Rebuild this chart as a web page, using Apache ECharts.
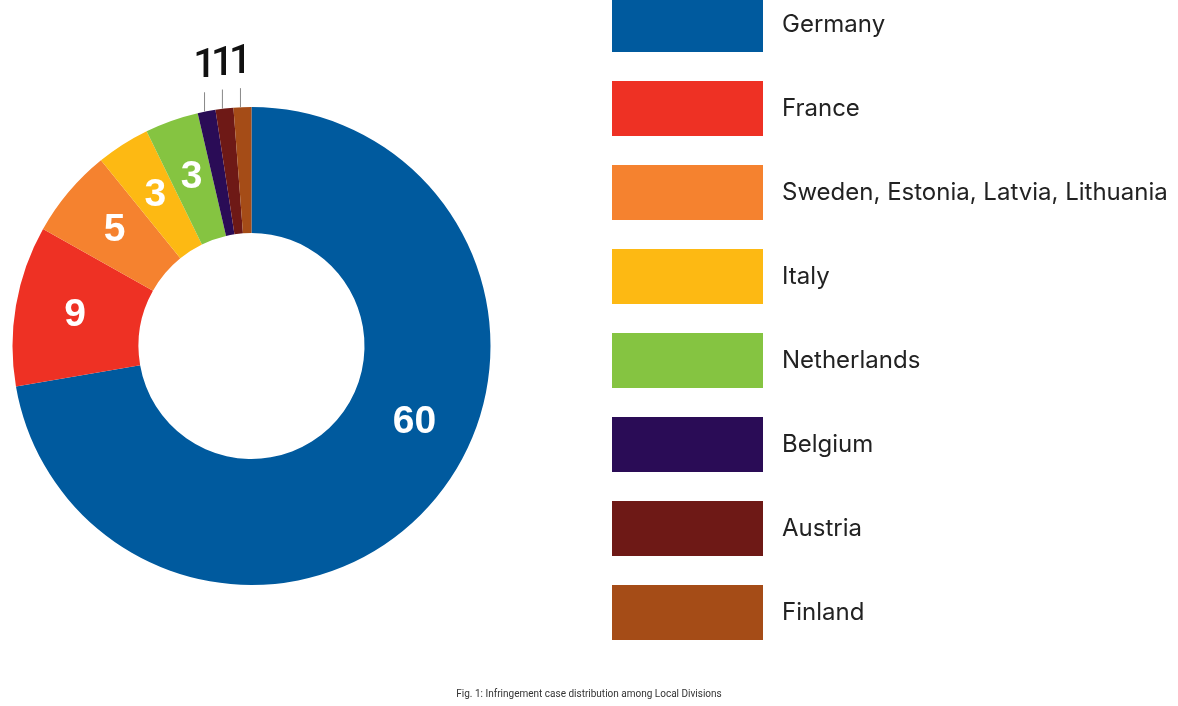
<!DOCTYPE html>
<html>
<head>
<meta charset="utf-8">
<script src="https://cdn.jsdelivr.net/npm/echarts@6/dist/echarts.min.js"></script>
<style>html,body{margin:0;padding:0;background:#fff;}#c{width:1178px;height:706px;}</style>
</head>
<body>
<div id="c"></div>
<script>
const categories = ['Germany', 'France', 'Sweden, Estonia, Latvia, Lithuania', 'Italy', 'Netherlands', 'Belgium', 'Austria', 'Finland'];
const values = [60, 9, 5, 3, 3, 1, 1, 1];
const colors = ['#005a9e', '#ee3124', '#f5822f', '#fdb913', '#85c441', '#2a0c56', '#6e1916', '#a54c17'];
const caption = 'Fig. 1: Infringement case distribution among Local Divisions';

const outsideIdx = new Set([5, 6, 7]);
const data = categories.map((name, i) => {
  const item = { name: name, value: values[i], itemStyle: { color: colors[i] } };
  if (outsideIdx.has(i)) {
    item.label = { position: 'outside', color: '#111', fontSize: 40, fontWeight: 500, fontFamily: 'Roboto' };
    item.labelLine = { show: true, length: 10, length2: 0, lineStyle: { color: '#888', width: 1 } };
  } else {
    item.labelLine = { show: false };
    if (i === 0) item.label = { offset: [26, -39] };
  }
  return item;
});

const chart = echarts.init(document.getElementById('c'));
chart.setOption({
  animation: false,
  title: {
    text: caption,
    left: 'center',
    top: 684,
    textStyle: { fontSize: 10, fontWeight: 'normal', color: '#333', fontFamily: 'Roboto' }
  },
  legend: {
    orient: 'vertical',
    left: 612,
    top: -3,
    padding: 0,
    icon: 'rect',
    itemWidth: 151,
    itemHeight: 55,
    itemGap: 29,
    selectedMode: false,
    textStyle: { fontSize: 24, color: '#222', fontFamily: 'Inter', padding: [0, 0, 0, 14] },
    data: categories
  },
  series: [{
    type: 'pie',
    center: [251.5, 346],
    radius: [113, 239],
    startAngle: 90,
    clockwise: true,
    avoidLabelOverlap: false,
    label: {
      show: true,
      position: 'inside',
      formatter: '{c}',
      color: '#fff',
      fontSize: 39,
      fontWeight: 'bold',
      fontFamily: 'Liberation Sans'
    },
    labelLayout: function (params) {
      if (!outsideIdx.has(params.dataIndex)) return {};
      const p = params.labelLinePoints;
      if (!p) return {};
      const x0 = p[0][0] - 2, y0 = p[0][1];
      return {
        x: x0,
        y: y0 - 24,
        align: 'center',
        verticalAlign: 'bottom',
        labelLinePoints: [[x0, y0], [x0, y0 - 19], [x0, y0 - 19]]
      };
    },
    emphasis: { disabled: true },
    data: data
  }]
});
</script>
</body>
</html>
